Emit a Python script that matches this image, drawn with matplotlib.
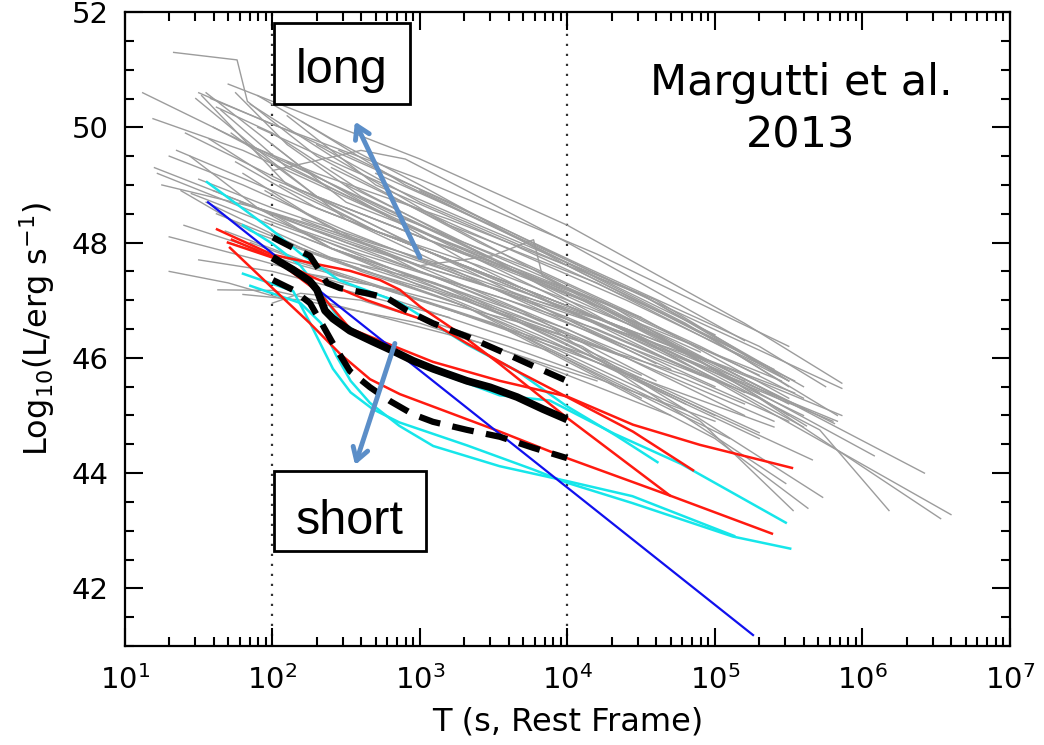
import numpy as np
import matplotlib
matplotlib.use("Agg")
import matplotlib.pyplot as plt
from matplotlib.patches import Rectangle
from matplotlib.ticker import MultipleLocator, FixedLocator, NullFormatter

# all curves stored as log10(T / s) and log10(L / erg s^-1)

# long GRBs (grey)
grey_logt = [
    [1.33, 1.76, 1.83, 2.3, 3.4, 4.5],
    [1.12, 2.0, 3.5, 4.8],
    [1.50, 2.0, 3.0, 4.2, 5.5],
    [1.55, 2.2, 3.3, 4.9],
    [1.70, 2.0, 3.0, 4.0, 5.2, 5.86],
    [1.58, 2.1, 3.2, 4.4, 5.86],
    [1.19, 1.8, 3.0, 4.6],
    [1.41, 2.2, 3.5, 4.6],
    [1.20, 2.0, 3.2, 4.4],
    [1.22, 2.1, 3.6, 5.0],
    [1.45, 2.3, 3.8, 5.3],
    [1.63, 2.0, 2.3, 3.5, 4.7],
    [1.80, 2.2, 3.0, 4.2],
    [2.0, 2.19, 2.6, 3.6, 5.0],
    [2.0, 2.6, 2.9, 4.0, 5.2],
    [1.35, 2.0, 3.0, 4.3, 5.6],
    [1.50, 2.0, 2.8, 4.0, 5.8],
    [1.72, 2.3, 3.0, 4.5, 5.83],
    [1.65, 2.1, 3.1, 4.2, 5.81],
    [1.85, 2.4, 3.2, 4.6, 5.62],
    [1.60, 2.2, 3.0, 4.3, 5.54],
    [2.05, 2.7, 3.4, 4.5, 6.08],
    [1.78, 2.5, 3.5, 5.0, 6.42],
    [1.90, 2.4, 3.3, 4.4, 5.71, 6.18],
    [1.95, 2.6, 3.6, 5.0, 6.6],
    [2.10, 3.0, 4.2, 5.3, 6.53],
    [1.55, 2.2, 3.3, 4.8, 5.73],
    [1.68, 2.3, 3.5, 5.0, 5.63],
    [1.85, 2.5, 3.6, 4.9, 5.53],
    [2.20, 2.9, 3.9, 5.48],
    [1.62, 2.2, 3.2, 4.5, 5.66],
    [2.3, 3.0, 4.0, 5.0, 5.5],
    [2.4, 3.2, 4.2, 5.5],
    [2.2, 3.0, 4.1, 5.45],
    [2.5, 3.3, 4.3, 5.5],
    [1.40, 2.0, 3.0, 4.2, 5.3],
    [1.30, 1.9, 2.6, 3.9, 5.1],
    [2.1, 2.7, 3.6, 4.7, 5.4],
    [1.9, 2.5, 3.4, 4.6, 5.5],
    [2.2, 2.9, 3.8, 5.0],
    [1.75, 2.3, 3.1, 4.3, 5.2],
    [2.0, 2.5, 3.3, 4.5, 5.5],
    [1.95, 2.5, 3.2, 4.0, 5.1],
    [2.4, 3.1, 4.0, 5.2],
    [2.6, 3.2, 4.1, 4.8],
    [2.0, 2.6, 3.3, 4.5],
    [2.3, 3.1, 3.95, 4.8],
    [2.2, 3.0, 3.49, 3.77, 3.83, 4.5, 5.5],
    [1.48, 2.0, 2.5, 3.5, 4.7],
    [1.52, 2.1, 2.7, 4.0, 5.2],
    [1.62, 2.0, 2.6, 3.8, 5.0],
    [1.44, 1.9, 2.4, 3.3, 4.5],
    [1.57, 2.0, 2.8, 4.1, 5.3],
    [1.83, 2.3, 3.2, 4.5, 5.6],
    [1.9, 2.4, 3.0, 4.0, 5.1],
    [1.30, 1.8, 2.5, 3.8, 5.0],
    [2.1, 2.8, 3.8, 4.9, 5.6],
    [2.5, 3.3, 4.2, 5.3],
    [2.8, 3.5, 4.4, 5.54],
    [1.7, 2.2, 2.9, 3.9, 5.4],
    [2.15, 2.8, 3.7, 4.8, 5.5],
    [1.5, 2.0, 2.6, 3.2],
    [1.3, 1.7, 2.1],
    [2.6, 3.3, 4.3, 5.6],
    [3.0, 3.8, 4.8, 5.83],
    [2.7, 3.4, 4.5, 5.5],
    [1.25, 1.9, 2.7, 3.9, 5.2],
    [1.6, 2.05, 2.9, 4.1, 5.45],
    [1.75, 2.1, 2.6, 3.6, 4.9],
    [2.3, 2.9, 3.9, 5.1, 5.86],
    [2.45, 3.1, 4.1, 5.3, 5.75],
    [1.38, 1.85, 2.5, 3.3, 4.4],
    [2.0, 2.4, 3.2, 4.4, 5.4],
    [1.8, 2.3, 3.0, 3.7, 4.6],
]
grey_lum = [
    [51.3, 51.17, 50.45, 49.5, 48.0, 46.7],
    [50.6, 49.5, 47.7, 45.9],
    [50.6, 50.05, 49.1, 47.8, 46.2],
    [50.6, 49.3, 47.7, 45.7],
    [50.75, 50.45, 49.45, 48.3, 46.6, 45.56],
    [50.5, 49.95, 48.7, 47.2, 45.47],
    [50.15, 49.6, 48.2, 46.2],
    [49.9, 48.9, 47.3, 45.9],
    [49.3, 48.5, 47.3, 46.0],
    [49.2, 48.3, 46.7, 45.0],
    [48.85, 48.0, 46.4, 44.6],
    [47.18, 47.17, 47.0, 46.2, 45.0],
    [47.1, 47.0, 46.6, 45.6],
    [46.95, 47.12, 47.0, 46.2, 44.9],
    [49.25, 49.6, 49.45, 48.0, 46.3],
    [49.6, 48.9, 47.9, 46.6, 45.0],
    [49.1, 48.6, 47.9, 46.8, 44.9],
    [49.9, 48.8, 47.9, 46.3, 44.9],
    [50.3, 49.3, 48.1, 46.9, 44.86],
    [50.4, 49.5, 48.3, 46.4, 44.82],
    [48.9, 48.3, 47.6, 46.6, 45.39],
    [49.0, 48.2, 47.6, 46.5, 44.3],
    [48.7, 48.0, 47.2, 45.9, 44.0],
    [48.6, 48.2, 47.5, 46.5, 44.75, 43.35],
    [48.4, 47.8, 47.0, 45.6, 43.28],
    [48.3, 47.5, 46.5, 45.3, 43.21],
    [48.7, 47.9, 46.9, 45.1, 43.58],
    [48.2, 47.6, 46.6, 44.6, 43.39],
    [48.0, 47.4, 46.5, 44.9, 43.35],
    [48.1, 47.4, 46.5, 43.82],
    [48.5, 47.9, 47.0, 45.6, 44.23],
    [49.7, 48.7, 47.6, 46.3, 45.5],
    [49.3, 48.3, 47.3, 45.6],
    [48.9, 48.1, 47.1, 45.3],
    [48.6, 47.8, 46.9, 45.0],
    [48.3, 47.8, 47.0, 46.0, 44.7],
    [48.1, 47.7, 47.2, 46.1, 44.6],
    [50.2, 49.0, 48.0, 46.7, 45.8],
    [50.0, 49.3, 48.3, 47.0, 45.6],
    [50.1, 49.0, 47.9, 46.4],
    [49.4, 48.6, 47.8, 46.5, 45.4],
    [49.7, 48.7, 47.9, 46.7, 45.3],
    [48.9, 48.1, 47.5, 46.7, 45.5],
    [47.9, 47.3, 46.5, 45.0],
    [47.6, 47.1, 46.2, 45.1],
    [48.2, 47.5, 46.9, 45.3],
    [47.8, 47.3, 46.3, 45.2],
    [48.4, 47.6, 47.77, 48.05, 47.42, 46.5, 45.2],
    [50.5, 49.4, 48.4, 47.2, 45.8],
    [50.55, 49.0, 48.2, 46.9, 45.6],
    [50.35, 49.9, 48.9, 47.3, 45.9],
    [49.5, 48.6, 47.9, 47.1, 45.7],
    [49.8, 49.1, 48.3, 47.0, 45.4],
    [49.7, 49.2, 48.4, 47.1, 45.5],
    [50.55, 49.8, 49.0, 47.6, 46.2],
    [49.5, 49.0, 48.2, 46.9, 45.5],
    [49.4, 48.5, 47.5, 46.2, 45.3],
    [49.0, 48.0, 47.0, 45.7],
    [48.8, 48.0, 47.0, 45.6],
    [48.0, 47.6, 47.1, 46.2, 44.8],
    [47.5, 47.2, 46.6, 45.7, 44.9],
    [47.7, 47.5, 47.1, 46.7],
    [47.5, 47.3, 47.0],
    [48.3, 47.6, 46.6, 44.8],
    [48.9, 47.9, 46.6, 45.0],
    [49.2, 48.4, 47.1, 45.6],
    [49.0, 48.6, 47.9, 46.6, 45.2],
    [50.0, 49.4, 48.3, 47.0, 45.6],
    [50.6, 49.7, 48.8, 47.6, 46.1],
    [48.6, 48.0, 47.0, 45.8, 45.0],
    [49.6, 48.8, 47.6, 46.2, 45.5],
    [48.9, 48.2, 47.6, 47.0, 46.0],
    [48.5, 47.9, 47.2, 46.0, 44.9],
    [49.2, 48.4, 47.5, 46.8, 45.6],
]

# short GRBs, red
red_logt = [
    [1.624, 2.0, 2.254, 2.525, 2.729, 2.864, 3.0, 3.271, 3.542, 3.997, 4.695],
    [1.725, 2.0, 2.254, 2.641, 3.088, 3.319, 3.658, 3.997, 4.444, 4.851],
    [1.698, 2.0, 2.322, 2.525, 2.864, 3.088, 3.542, 3.997, 4.444, 4.898, 5.305, 5.522],
    [1.712, 2.0, 2.254, 2.458, 2.661, 2.864, 3.542, 3.997, 4.695, 5.386],
]
red_lum = [
    [48.23, 47.79, 47.65, 47.51, 47.35, 47.18, 46.89, 46.42, 45.89, 44.96, 43.61],
    [48.05, 47.75, 47.42, 47.0, 46.6, 46.25, 45.77, 45.32, 44.72, 44.05],
    [48.0, 47.74, 47.12, 46.51, 46.16, 45.93, 45.6, 45.33, 44.84, 44.49, 44.23, 44.09],
    [47.91, 47.21, 46.6, 46.07, 45.63, 45.37, 44.72, 44.26, 43.61, 42.95],
]

# short GRBs, cyan
cyan_logt = [
    [1.556, 2.0, 2.19, 2.45, 2.86, 3.32, 3.66, 3.99, 4.33, 4.61],
    [1.8, 2.0, 2.19, 2.32, 2.46, 2.66, 2.86, 3.09, 3.32, 3.54, 3.88, 4.32, 4.77, 5.48],
    [1.8, 2.14, 2.25, 2.41, 2.53, 2.68, 2.86, 3.32, 3.77, 4.0, 4.44, 5.12, 5.51],
    [1.85, 2.19, 2.33, 2.43, 2.53, 2.66, 2.86, 3.09, 3.54, 4.0, 4.44, 5.13],
]
cyan_lum = [
    [49.05, 48.21, 47.81, 47.35, 46.96, 46.23, 45.77, 45.17, 44.65, 44.19],
    [48.3, 47.98, 47.6, 47.17, 46.64, 46.29, 46.03, 45.77, 45.56, 45.35, 45.26, 44.68, 44.16, 43.14],
    [47.46, 47.16, 46.63, 45.81, 45.4, 45.11, 44.88, 44.48, 44.06, 43.83, 43.48, 42.9, 42.69],
    [47.25, 46.95, 46.6, 46.05, 45.6, 45.22, 44.82, 44.47, 44.12, 43.86, 43.6, 42.91],
]

# single blue power law
blue_logt = [1.563, 5.258]
blue_lum = [48.70, 41.19]

# mean and 1-sigma of the short sample (black)
mean_logt = [2.0, 2.139, 2.254, 2.302, 2.356, 2.410, 2.525, 2.681, 2.817, 2.953,
             3.088, 3.319, 3.475, 3.658, 3.834, 3.997]
mean_lum = [47.74, 47.53, 47.33, 47.18, 46.82, 46.68, 46.47, 46.28, 46.12, 45.95,
            45.81, 45.60, 45.49, 45.32, 45.11, 44.93]
upper_logt = [2.003, 2.139, 2.254, 2.308, 2.369, 2.458, 2.641, 2.776, 2.912, 3.088,
              3.319, 3.542, 3.766, 3.997]
upper_lum = [48.09, 47.91, 47.77, 47.56, 47.30, 47.21, 47.12, 47.04, 46.82, 46.60,
             46.37, 46.12, 45.86, 45.60]
lower_logt = [2.003, 2.139, 2.254, 2.322, 2.410, 2.525, 2.661, 2.797, 2.953, 3.088,
              3.319, 3.542, 3.766, 3.997]
lower_lum = [47.35, 47.18, 46.95, 46.65, 46.25, 45.77, 45.49, 45.25, 45.02, 44.89,
             44.75, 44.63, 44.44, 44.26]

vlines_t = [1e2, 1e4]
x_decades = [1, 2, 3, 4, 5, 6, 7]
y_major = [42, 44, 46, 48, 50, 52]

fig = plt.figure(figsize=(10.44, 7.45), dpi=100)
ax = fig.add_axes([0.1197, 0.1329, 0.8477, 0.8509])

for lt, lum in zip(grey_logt, grey_lum):
    ax.plot(10 ** np.array(lt), lum, color='#9c9c9c', lw=1.0, zorder=2)

for lt, lum in zip(cyan_logt, cyan_lum):
    ax.plot(10 ** np.array(lt), lum, color='#16e6ea', lw=1.8, zorder=3)
for lt, lum in zip(red_logt, red_lum):
    ax.plot(10 ** np.array(lt), lum, color='#ff1a10', lw=1.8, zorder=3)
ax.plot(10 ** np.array(blue_logt), blue_lum, color='#1010ee', lw=1.6, zorder=3)

ax.plot(10 ** np.array(mean_logt), mean_lum, color='black', lw=5.5,
        solid_capstyle='butt', zorder=4)
for lt, lum in [(upper_logt, upper_lum), (lower_logt, lower_lum)]:
    ax.plot(10 ** np.array(lt), lum, color='black', lw=4.5, ls=(0, (3.5, 2.0)),
            dash_capstyle='butt', zorder=4)

for t in vlines_t:
    ax.axvline(t, color='#333333', lw=1.6, ls=(0, (1, 3.5)), zorder=1)

ax.set_xscale('log')
ax.set_xlim(1e1, 1e7)
ax.set_ylim(41, 52)
ax.set_xticks([10.0 ** d for d in x_decades])
ax.set_xticklabels([r'$10^{%d}$' % d for d in x_decades])
minor_x = [m * 10.0 ** d for d in x_decades[:-1] for m in range(2, 10)]
ax.xaxis.set_minor_locator(FixedLocator(minor_x))
ax.xaxis.set_minor_formatter(NullFormatter())
ax.set_yticks(y_major)
ax.yaxis.set_minor_locator(MultipleLocator(0.5))

ax.tick_params(which='both', direction='in', top=True, right=True, width=1.5,
               colors='black', labelsize=21)
ax.tick_params(which='major', length=13)
ax.tick_params(which='minor', length=6.5)
ax.tick_params(axis='x', pad=14)
ax.tick_params(axis='y', pad=12)
for s in ax.spines.values():
    s.set_linewidth(1.6)

ax.set_xlabel('T (s, Rest Frame)', fontsize=23, labelpad=8)
ax.set_ylabel(r'Log$_{10}$(L/erg s$^{-1}$)', fontsize=23, labelpad=10)

arrow_kw = dict(arrowstyle='->,head_length=0.9,head_width=0.55', color='#5b8ec8',
                lw=3.5, shrinkA=0, shrinkB=0)
ax.annotate('', xy=(10 ** 2.559, 50.1), xytext=(10 ** 3.0, 47.74),
            arrowprops=arrow_kw, zorder=6)
ax.annotate('', xy=(10 ** 2.56, 44.14), xytext=(10 ** 2.83, 46.25),
            arrowprops=arrow_kw, zorder=6)

# label boxes (axes fraction)
ax.add_patch(Rectangle((0.168, 0.855), 0.154, 0.128, transform=ax.transAxes,
                       facecolor='white', edgecolor='black', lw=2, zorder=7))
ax.text(0.245, 0.888, 'long', transform=ax.transAxes, fontsize=35,
        family='Liberation Sans', ha='center', va='baseline', zorder=8)
ax.add_patch(Rectangle((0.168, 0.150), 0.172, 0.126, transform=ax.transAxes,
                       facecolor='white', edgecolor='black', lw=2, zorder=7))
ax.text(0.254, 0.176, 'short', transform=ax.transAxes, fontsize=35,
        family='Liberation Sans', ha='center', va='baseline', zorder=8)

ax.text(0.764, 0.869, 'Margutti et al.', transform=ax.transAxes, fontsize=31,
        ha='center', va='baseline', zorder=7)
ax.text(0.764, 0.787, '2013', transform=ax.transAxes, fontsize=31,
        ha='center', va='baseline', zorder=7)

fig.savefig('out.png', dpi=100)
